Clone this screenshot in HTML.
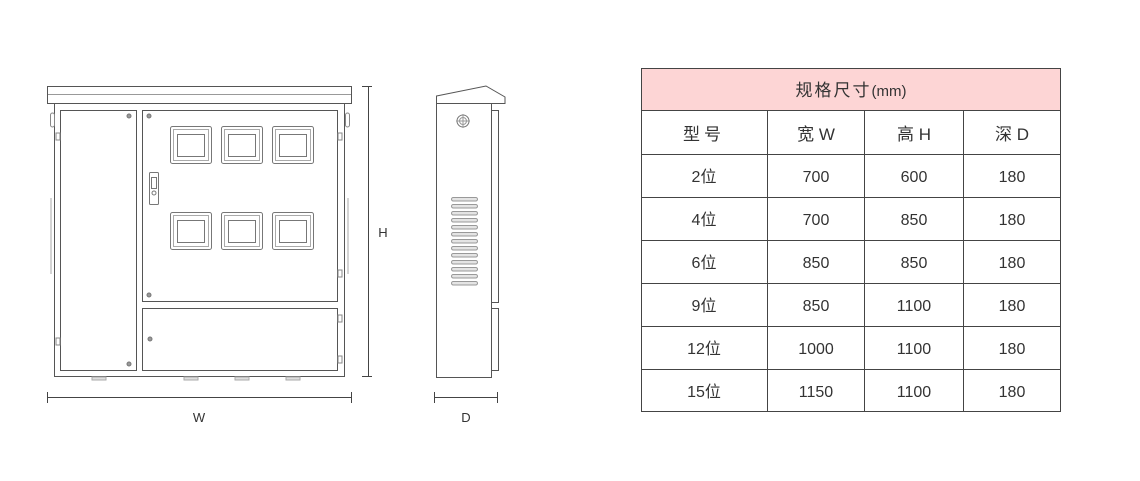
<!DOCTYPE html>
<html><head><meta charset="utf-8"><style>
html,body{margin:0;padding:0;background:#fff;}
svg{display:block;}
text{font-family:"Liberation Sans","Noto Sans CJK SC",sans-serif;fill:#333;}
</style></head><body>
<svg width="1140" height="481" viewBox="0 0 1140 481" xmlns="http://www.w3.org/2000/svg">
<g fill="none" stroke="#555" stroke-width="1">
<!-- front view -->
<rect x="47.5" y="86.5" width="304" height="17" fill="#fff"/>
<line x1="48" y1="94.5" x2="351" y2="94.5" stroke="#999"/>
<rect x="54.5" y="103.5" width="290" height="273" fill="#fff"/>
<rect x="60.5" y="110.5" width="76" height="260"/>
<rect x="142.5" y="110.5" width="195" height="191"/>
<rect x="142.5" y="308.5" width="195" height="62"/>
<!-- feet -->
<g fill="#ddd" stroke="#aaa">
<rect x="92" y="377" width="14" height="3"/><rect x="184" y="377" width="14" height="3"/><rect x="235" y="377" width="14" height="3"/><rect x="286" y="377" width="14" height="3"/>
</g>
<!-- screws -->
<g fill="#999" stroke="#777">
<circle cx="129" cy="116" r="2"/><circle cx="129" cy="364" r="2"/>
<circle cx="149" cy="116" r="2"/><circle cx="149" cy="295" r="2"/><circle cx="150" cy="339" r="2"/>
</g>
<!-- meters -->
<g stroke="#777">
<g id="m"><rect x="170.5" y="126.5" width="41" height="37" rx="2"/><rect x="173.5" y="129.5" width="35" height="31" stroke="#aaa"/><rect x="177.5" y="134.5" width="27" height="22"/></g>
<use href="#m" x="51"/><use href="#m" x="102"/>
<use href="#m" y="86"/><use href="#m" x="51" y="86"/><use href="#m" x="102" y="86"/>
</g>
<!-- handle -->
<rect x="149.5" y="172.5" width="9" height="32" rx="1" stroke="#777"/>
<rect x="151.5" y="177.5" width="5" height="11" stroke="#777"/>
<circle cx="154" cy="193" r="2" stroke="#777"/>
<!-- hinges and side bumps -->
<g stroke="#888">
<rect x="50.5" y="113" width="4" height="14" rx="2"/><rect x="345.5" y="113" width="4" height="14" rx="2"/>
<rect x="56" y="133" width="4" height="7"/><rect x="56" y="338" width="4" height="7"/>
<rect x="338" y="133" width="4" height="7"/><rect x="338" y="270" width="4" height="7"/><rect x="338" y="315" width="4" height="7"/><rect x="338" y="356" width="4" height="7"/>
</g>
<g stroke="#aaa">
<path d="M51 198 v76 M348 198 v76"/>
</g>
<!-- dimension lines -->
<g stroke="#444">
<line x1="368.5" y1="86" x2="368.5" y2="377"/><line x1="362" y1="86.5" x2="372" y2="86.5"/><line x1="362" y1="376.5" x2="372" y2="376.5"/>
<line x1="47" y1="397.5" x2="352" y2="397.5"/><line x1="47.5" y1="392" x2="47.5" y2="403"/><line x1="351.5" y1="392" x2="351.5" y2="403"/>
<line x1="434" y1="397.5" x2="498" y2="397.5"/><line x1="434.5" y1="392" x2="434.5" y2="403"/><line x1="497.5" y1="392" x2="497.5" y2="403"/>
</g>
<!-- side view -->
<path d="M436.5 96 L486 86 L505 97 L505 103.5 L436.5 103.5 Z" fill="#fff"/>
<rect x="436.5" y="103.5" width="55" height="274" fill="#fff"/>
<rect x="491.5" y="110.5" width="7" height="192"/>
<rect x="491.5" y="308.5" width="7" height="62"/>
<circle cx="463" cy="121" r="6" stroke="#777"/><circle cx="463" cy="121" r="3.5" stroke="#999"/>
<line x1="456" y1="121" x2="470" y2="121" stroke="#999"/><line x1="463" y1="114" x2="463" y2="128" stroke="#999"/>
<g stroke="#999" fill="#e4e4e4">
<rect x="451.5" y="197.5" width="26" height="3.5" rx="1.7"/><rect x="451.5" y="204.5" width="26" height="3.5" rx="1.7"/><rect x="451.5" y="211.5" width="26" height="3.5" rx="1.7"/><rect x="451.5" y="218.5" width="26" height="3.5" rx="1.7"/><rect x="451.5" y="225.5" width="26" height="3.5" rx="1.7"/><rect x="451.5" y="232.5" width="26" height="3.5" rx="1.7"/><rect x="451.5" y="239.5" width="26" height="3.5" rx="1.7"/><rect x="451.5" y="246.5" width="26" height="3.5" rx="1.7"/><rect x="451.5" y="253.5" width="26" height="3.5" rx="1.7"/><rect x="451.5" y="260.5" width="26" height="3.5" rx="1.7"/><rect x="451.5" y="267.5" width="26" height="3.5" rx="1.7"/><rect x="451.5" y="274.5" width="26" height="3.5" rx="1.7"/><rect x="451.5" y="281.5" width="26" height="3.5" rx="1.7"/>
</g>
</g>
<text x="383" y="237" font-size="13" text-anchor="middle">H</text>
<text x="199" y="422" font-size="13" text-anchor="middle">W</text>
<text x="466" y="422" font-size="13" text-anchor="middle">D</text>
<!-- table -->
<rect x="641.5" y="68.5" width="419" height="42" fill="#fdd5d5"/>
<g stroke="#444" stroke-width="1" fill="none">
<rect x="641.5" y="68.5" width="419" height="343"/>
<line x1="641" y1="110.5" x2="1061" y2="110.5"/>
<line x1="641" y1="154.5" x2="1061" y2="154.5"/>
<line x1="641" y1="197.5" x2="1061" y2="197.5"/>
<line x1="641" y1="240.5" x2="1061" y2="240.5"/>
<line x1="641" y1="283.5" x2="1061" y2="283.5"/>
<line x1="641" y1="326.5" x2="1061" y2="326.5"/>
<line x1="641" y1="369.5" x2="1061" y2="369.5"/>
<line x1="767.5" y1="110" x2="767.5" y2="412"/>
<line x1="864.5" y1="110" x2="864.5" y2="412"/>
<line x1="963.5" y1="110" x2="963.5" y2="412"/>
</g>
<g font-size="17" text-anchor="middle">
<text x="851" y="96" letter-spacing="2">规格尺寸<tspan font-size="15" letter-spacing="0">(mm)</tspan></text>
<text x="704" y="140" letter-spacing="4">型号</text>
<text x="816" y="140">宽 W</text>
<text x="914" y="140">高 H</text>
<text x="1012" y="140">深 D</text>
</g>
<g font-size="16" text-anchor="middle">
<text x="704" y="182">2位</text><text x="816" y="182">700</text><text x="914" y="182">600</text><text x="1012" y="182">180</text>
<text x="704" y="225">4位</text><text x="816" y="225">700</text><text x="914" y="225">850</text><text x="1012" y="225">180</text>
<text x="704" y="268">6位</text><text x="816" y="268">850</text><text x="914" y="268">850</text><text x="1012" y="268">180</text>
<text x="704" y="311">9位</text><text x="816" y="311">850</text><text x="914" y="311">1100</text><text x="1012" y="311">180</text>
<text x="704" y="354">12位</text><text x="816" y="354">1000</text><text x="914" y="354">1100</text><text x="1012" y="354">180</text>
<text x="704" y="397">15位</text><text x="816" y="397">1150</text><text x="914" y="397">1100</text><text x="1012" y="397">180</text>
</g>
</svg>
</body></html>
